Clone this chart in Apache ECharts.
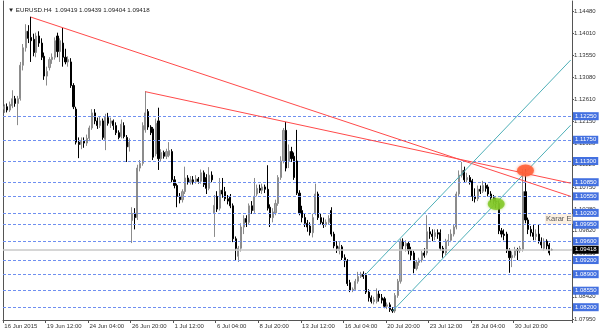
<!DOCTYPE html>
<html>
<head>
<meta charset="utf-8">
<script src="https://cdn.jsdelivr.net/npm/echarts@6/dist/echarts.min.js"></script>
<style>html,body{margin:0;padding:0;background:#fff;}#c{width:600px;height:333px;}</style>
</head>
<body>
<div id="c"></div>
<script>
// ---- Data (EURUSD H4) ----
var openP = [1.1240,1.1245,1.1238,1.1247,1.1262,1.1252,1.1262,1.1333,1.1370,1.1405,1.1392,1.1388,1.1360,1.1395,1.1380,1.1352,1.1310,1.1328,1.1345,1.1350,
1.1395,1.1362,1.1380,1.1350,1.1340,1.1340,1.1290,1.1240,1.1170,1.1165,1.1172,1.1168,1.1178,1.1200,1.1232,1.1215,1.1205,1.1215,1.1176,1.1222,
1.1210,1.1215,1.1205,1.1190,1.1182,1.1205,1.1180,1.1160,1.1004,1.1019,1.1010,1.1115,1.1125,1.1196,1.1235,1.1202,1.1198,1.1145,1.1215,1.1135,
1.1148,1.1140,1.1142,1.1150,1.1090,1.1078,1.1055,1.1048,1.1065,1.1094,1.1085,1.1090,1.1086,1.1092,1.1087,1.1105,1.1095,1.1072,1.1100,1.1020,
1.1055,1.1030,1.1068,1.1065,1.1050,1.1055,1.1035,1.0965,1.0928,1.0945,1.0990,1.1008,1.1000,1.1035,1.1025,1.1060,1.1072,1.1068,1.1075,1.1070,
1.1032,1.1010,1.1020,1.1040,1.1095,1.1130,1.1195,1.1130,1.1150,1.1140,1.1130,1.1062,1.1025,1.1010,1.0998,1.0992,1.0978,1.1020,1.1060,1.1010,
1.1000,1.0995,1.1000,1.1025,1.0975,1.0950,1.0940,1.0948,1.0925,1.0918,1.0872,1.0856,1.0858,1.0875,1.0885,1.0890,1.0888,1.0852,1.0840,1.0832,
1.0832,1.0848,1.0840,1.0838,1.0822,1.0825,1.0815,1.0812,1.0845,1.0875,1.0960,1.0950,1.0955,1.0940,1.0935,1.0902,1.0915,1.0920,1.0935,1.0935,
1.0980,1.0975,1.0970,1.0978,1.0978,1.0945,1.0935,1.0960,1.0962,1.0975,1.0990,1.1060,1.1100,1.1110,1.1090,1.1095,1.1088,1.1055,1.1050,1.1070,
1.1066,1.1078,1.1075,1.1060,1.1052,1.1045,1.1040,1.0982,1.0975,1.0975,1.0940,1.0925,1.0930,1.0942,1.0940,1.0942,1.1065,1.1005,1.0985,1.0978,
1.0970,1.0975,1.0960,1.0945,1.0960,1.0952,1.09419];
var highP = [1.1250,1.1252,1.1256,1.1280,1.1268,1.1268,1.1340,1.1378,1.1420,1.1418,1.1436,1.1400,1.1402,1.1405,1.1390,1.1360,1.1330,1.1350,1.1358,1.1392,
1.1402,1.1390,1.1412,1.1368,1.1352,1.1348,1.1295,1.1245,1.1180,1.1180,1.1180,1.1186,1.1205,1.1240,1.1240,1.1222,1.1225,1.1220,1.1230,1.1232,
1.1222,1.1218,1.1212,1.1195,1.1218,1.1212,1.1185,1.1178,1.1032,1.1030,1.1122,1.1132,1.1212,1.1278,1.1240,1.1206,1.1202,1.1220,1.1243,1.1155,
1.1152,1.1156,1.1170,1.1155,1.1098,1.1082,1.1062,1.1070,1.1118,1.1100,1.1098,1.1098,1.1100,1.1096,1.1112,1.1110,1.1102,1.1117,1.1108,1.1058,
1.1066,1.1094,1.1094,1.1075,1.1058,1.1060,1.1040,1.0970,1.0950,1.0998,1.1015,1.1015,1.1040,1.1045,1.1094,1.1080,1.1080,1.1082,1.1080,1.1121,
1.1038,1.1030,1.1048,1.1100,1.1140,1.1200,1.1213,1.1165,1.1160,1.1148,1.1196,1.1068,1.1035,1.1018,1.1005,1.1000,1.1018,1.1082,1.1065,1.1018,
1.1010,1.1006,1.1015,1.1032,1.0980,1.0960,1.0958,1.0952,1.0932,1.0922,1.0878,1.0862,1.0880,1.0895,1.0895,1.0896,1.0892,1.0858,1.0845,1.0842,
1.0860,1.0855,1.0848,1.0842,1.0830,1.0830,1.0820,1.0850,1.0880,1.0965,1.0966,1.0962,1.0960,1.0948,1.0940,1.0920,1.0925,1.0940,1.0945,1.1015,
1.0990,1.0985,1.0985,1.0985,1.0985,1.0950,1.0965,1.0975,1.0985,1.0995,1.1065,1.1110,1.1128,1.1118,1.1105,1.1100,1.1092,1.1072,1.1078,1.1078,
1.1088,1.1085,1.1080,1.1066,1.1058,1.1052,1.1045,1.0988,1.0985,1.0980,1.0945,1.0938,1.0948,1.0946,1.0950,1.1113,1.1113,1.1010,1.0992,1.0995,
1.0985,1.0995,1.0968,1.0966,1.0964,1.0956,1.09439];
var lowP = [1.1232,1.1233,1.1234,1.1242,1.1245,1.1206,1.1258,1.1322,1.1362,1.1380,1.1340,1.1352,1.1350,1.1372,1.1344,1.1302,1.1290,1.1322,1.1336,1.1345,
1.1350,1.1340,1.1330,1.1335,1.1330,1.1285,1.1240,1.1165,1.1136,1.1155,1.1158,1.1162,1.1172,1.1196,1.1208,1.1198,1.1200,1.1175,1.1153,1.1205,
1.1200,1.1196,1.1185,1.1176,1.1178,1.1178,1.1128,1.1150,1.0956,1.0985,1.1005,1.1108,1.1120,1.1190,1.1196,1.1185,1.1132,1.1140,1.1111,1.1128,
1.1135,1.1134,1.1138,1.1085,1.1072,1.1032,1.1040,1.1042,1.1060,1.1080,1.1080,1.1080,1.1082,1.1082,1.1082,1.1075,1.1060,1.1068,1.1085,1.0969,
1.1022,1.1025,1.1052,1.1045,1.1038,1.1030,1.0958,1.0920,1.0916,1.0938,1.0975,1.0990,1.0995,1.1018,1.1020,1.1055,1.1062,1.1060,1.1062,1.1025,
1.0990,1.1000,1.1015,1.1035,1.1090,1.1125,1.1108,1.1115,1.1128,1.1090,1.1058,1.1015,1.1000,1.0990,1.0980,1.0972,1.0968,1.1015,1.1005,1.0995,
1.0988,1.0990,1.0995,1.0970,1.0945,1.0935,1.0932,1.0920,1.0905,1.0865,1.0852,1.0852,1.0855,1.0870,1.0882,1.0880,1.0848,1.0832,1.0828,1.0826,
1.0828,1.0832,1.0828,1.0818,1.0816,1.0810,1.0808,1.0808,1.0840,1.0870,1.0942,1.0938,1.0932,1.0920,1.0892,1.0898,1.0908,1.0915,1.0925,1.0930,
1.0965,1.0960,1.0962,1.0965,1.0940,1.0925,1.0930,1.0950,1.0958,1.0970,1.0985,1.1055,1.1095,1.1085,1.1085,1.1080,1.1045,1.1042,1.1045,1.1060,
1.1062,1.1065,1.1055,1.1042,1.1038,1.1030,1.0975,1.0968,1.0962,1.0935,1.0893,1.0905,1.0925,1.0920,1.0935,1.0938,1.0998,1.0975,1.0970,1.0962,
1.0962,1.0955,1.0945,1.0940,1.0942,1.0930,1.09404];
var closeP = [1.1245,1.1238,1.1250,1.1262,1.1252,1.1262,1.1333,1.1370,1.1405,1.1390,1.1385,1.1360,1.1395,1.1380,1.1350,1.1310,1.1320,1.1345,1.1350,1.1385,
1.1362,1.1385,1.1350,1.1340,1.1345,1.1290,1.1245,1.1170,1.1165,1.1172,1.1168,1.1178,1.1200,1.1232,1.1215,1.1205,1.1215,1.1180,1.1223,1.1210,
1.1215,1.1205,1.1190,1.1180,1.1208,1.1182,1.1160,1.1170,1.1019,1.1010,1.1115,1.1125,1.1205,1.1232,1.1202,1.1190,1.1138,1.1210,1.1135,1.1148,
1.1140,1.1150,1.1152,1.1090,1.1078,1.1055,1.1048,1.1065,1.1094,1.1085,1.1090,1.1086,1.1092,1.1087,1.1105,1.1080,1.1072,1.1100,1.1090,1.1036,
1.1028,1.1068,1.1060,1.1050,1.1045,1.1035,1.0965,1.0945,1.0945,1.0990,1.1008,1.1000,1.1035,1.1025,1.1055,1.1072,1.1068,1.1075,1.1070,1.1030,
1.1010,1.1022,1.1040,1.1095,1.1130,1.1195,1.1115,1.1150,1.1135,1.1095,1.1062,1.1020,1.1010,1.0998,1.0990,1.0978,1.1010,1.1060,1.1010,1.1000,
1.0995,1.1000,1.1008,1.0975,1.0950,1.0945,1.0948,1.0925,1.0918,1.0870,1.0856,1.0858,1.0875,1.0885,1.0890,1.0885,1.0852,1.0840,1.0832,1.0836,
1.0848,1.0840,1.0835,1.0822,1.0825,1.0815,1.0812,1.0845,1.0875,1.0960,1.0950,1.0955,1.0940,1.0930,1.0902,1.0915,1.0920,1.0935,1.0930,1.0980,
1.0975,1.0970,1.0978,1.0975,1.0945,1.0935,1.0960,1.0962,1.0975,1.0990,1.1060,1.1100,1.1110,1.1090,1.1095,1.1085,1.1055,1.1050,1.1070,1.1066,
1.1078,1.1072,1.1060,1.1052,1.1045,1.1040,1.0982,1.0975,1.0972,1.0940,1.0925,1.0930,1.0942,1.0940,1.0945,1.1065,1.1005,1.0985,1.0978,1.0970,
1.0975,1.0960,1.0952,1.0960,1.0950,1.0935,1.09418];

// horizontal levels (blue dashed lines with labels)
var levels = [1.1225,1.1175,1.1130,1.1085,1.1055,1.1020,1.0995,1.0960,1.0920,1.0890,1.0855,1.0820];
var lastPrice = 1.09418;
// right price scale tick labels
var priceTicks = [1.07950,1.08420,1.08890,1.09350,1.09820,1.10280,1.10750,1.11220,1.11680,1.12150,1.12610,1.13080,1.13550,1.14010,1.14480];
var yMin = 1.07929, yMax = 1.14692;
// trend lines: [barIndex, price] pairs
var trendRed1 = [[10, 1.1435], [213, 1.1055]];
var trendRed2 = [[53, 1.1277], [213, 1.1083]];
var chanUpper = [[136, 1.0890], [213, 1.1344]];
var chanLower = [[146, 1.0812], [213, 1.1206]];
var greenMark = [185, 1.1039];
var redMark = [196, 1.1110];
var titleText = '\u25BC EURUSD.H4  1.09419 1.09439 1.09404 1.09418';

// ---- categories: H4 bars, weekdays only ----
var months = ['Jan','Feb','Mar','Apr','May','Jun','Jul','Aug','Sep','Oct','Nov','Dec'];
var totalSlots = 214;
var categories = [];
var t = Date.UTC(2015, 5, 16, 20);
while (categories.length < totalSlots) {
  var d = new Date(t);
  var wd = d.getUTCDay();
  if (wd !== 0 && wd !== 6) {
    var hh = ('0' + d.getUTCHours()).slice(-2);
    categories.push(d.getUTCDate() + ' ' + months[d.getUTCMonth()] + ' ' + hh + ':00');
  }
  t += 4 * 3600 * 1000;
}
var lastLabelIdx = 192;
function showTick(i) { return i % 16 === 0 && i <= lastLabelIdx; }

var candles = openP.map(function (o, i) { return [o, closeP[i], lowP[i], highP[i]]; });

var font = 'Liberation Sans, Arial, sans-serif';
var markLines = levels.map(function (v) {
  return { yAxis: v, label: { formatter: v.toFixed(5) } };
});
markLines.push({
  yAxis: lastPrice,
  lineStyle: { color: '#c8c8c8', type: 'solid', width: 1.5 },
  label: { formatter: lastPrice.toFixed(5), backgroundColor: '#000', color: '#fff' }
});
function seg(p, color) {
  return [
    { coord: p[0], lineStyle: { color: color, type: 'solid', width: 1 }, label: { show: false } },
    { coord: p[1] }
  ];
}
markLines.push(seg(trendRed1, '#ff4a4a'));
markLines.push(seg(trendRed2, '#ff4a4a'));
markLines.push(seg(chanUpper, '#4fb0b8'));
markLines.push(seg(chanLower, '#4fb0b8'));

var chart = echarts.init(document.getElementById('c'), null, { renderer: 'canvas' });
chart.setOption({
  animation: false,
  backgroundColor: '#ffffff',
  title: {
    text: titleText, left: 3, top: 2,
    textStyle: { fontSize: 6.2, fontWeight: 'normal', color: '#222', fontFamily: font }
  },
  grid: { left: 3, right: 28, top: 1, bottom: 13, containLabel: false },
  xAxis: {
    type: 'category', data: categories, boundaryGap: true,
    axisLine: { show: true, lineStyle: { color: '#555', width: 1 } },
    axisTick: { show: true, length: 3, interval: function (i) { return showTick(i); }, lineStyle: { color: '#555' } },
    axisLabel: {
      interval: function (i) { return showTick(i); },
      fontSize: 6, color: '#333', fontFamily: font, align: 'left', margin: 3,
      formatter: function (v, i) { return i === 0 ? '16 Jun 2015' : v; }
    },
    splitLine: { show: false }
  },
  yAxis: [{
    type: 'value', position: 'right', min: yMin, max: yMax, scale: true,
    axisLine: { show: true, lineStyle: { color: '#555', width: 1 } },
    axisTick: { show: true, length: 2, customValues: priceTicks, lineStyle: { color: '#555' } },
    axisLabel: { customValues: priceTicks, fontSize: 6, color: '#333', fontFamily: font, margin: 2,
      formatter: function (v) { return v.toFixed(5); } },
    splitLine: { show: false }
  }, {
    type: 'value', position: 'left', min: yMin, max: yMax, scale: true,
    axisLine: { show: true, lineStyle: { color: '#555', width: 1 } },
    axisTick: { show: false }, axisLabel: { show: false }, splitLine: { show: false }
  }],
  graphic: [{
    type: 'text', left: 545, top: 214, z: 1,
    style: { text: 'Karar E', fill: '#555', font: '7.5px ' + font, backgroundColor: '#fdf1e2', padding: [1, 1] }
  }],
  series: [{
    type: 'candlestick',
    data: candles,
    barWidth: 1.6,
    clip: false,
    itemStyle: { color: '#a6a6a6', color0: '#000000', borderColor: '#8c8c8c', borderColor0: '#000000', borderWidth: 1 },
    markLine: {
      symbol: ['none', 'none'], silent: true, animation: false, precision: 5,
      lineStyle: { color: '#6f8ff0', type: [3, 2], width: 1 },
      label: { show: true, position: 'end', distance: 1, fontSize: 6, fontFamily: font, color: '#fff',
        backgroundColor: '#4370e0', padding: [1, 2], lineHeight: 6 },
      emphasis: { disabled: true },
      data: markLines
    },
    markPoint: {
      silent: true, animation: false, label: { show: false },
      data: [
        { coord: greenMark, symbol: 'circle', symbolSize: [17, 12],
          itemStyle: { color: 'rgba(130,200,40,0.85)', shadowBlur: 3, shadowColor: 'rgba(130,200,40,0.8)' } },
        { coord: redMark, symbol: 'circle', symbolSize: [17, 12],
          itemStyle: { color: 'rgba(255,95,55,0.85)', shadowBlur: 3, shadowColor: 'rgba(255,95,55,0.8)' } }
      ]
    }
  }]
});
</script>
</body>
</html>
